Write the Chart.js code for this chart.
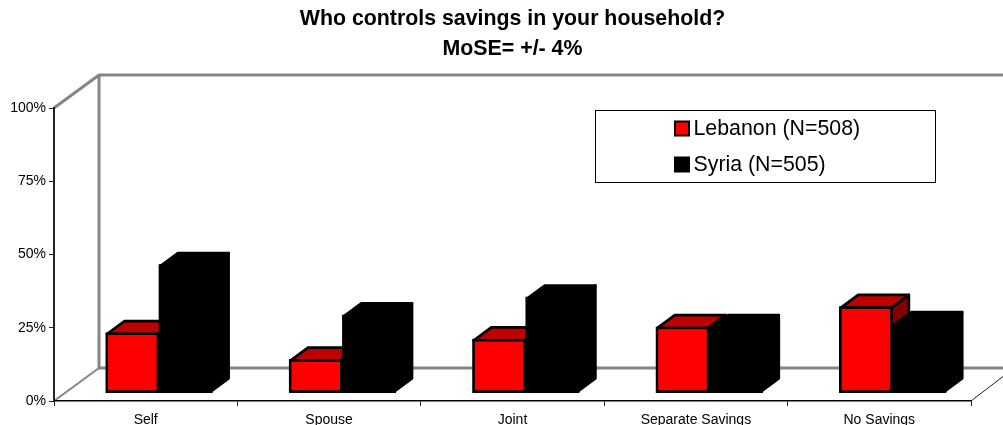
<!DOCTYPE html>
<html><head><meta charset="utf-8">
<style>html,body{margin:0;padding:0;background:#fff;overflow:hidden}#w{position:relative;width:1003px;height:425px}</style>
<script src="https://cdn.jsdelivr.net/npm/chart.js@4"></script>
</head><body><div id="w"><canvas id="c" width="1003" height="425"></canvas></div>
<script>
const categories = ['Self','Spouse','Joint','Separate Savings','No Savings'];
const lebanon = [20.5,11.4,18.3,22.5,29.4];
const syria = [43.7,26.5,32.6,22.5,23.5];
const seriesNames = ['Lebanon (N=508)','Syria (N=505)'];
const yTicks = [0,25,50,75,100];
const titleLines = ['Who controls savings in your household?','MoSE= +/- 4%'];
const slots = categories.map((_,i)=>i);

const FONT='Arial, "Liberation Sans", sans-serif';
const GREY='#858585';
const DX=17.6, DY=13, EDGE=2.75;

function line(ctx,pts,color,w){ctx.save();ctx.strokeStyle=color;ctx.lineWidth=w;ctx.lineJoin='miter';ctx.beginPath();pts.forEach((p,i)=>i?ctx.lineTo(p[0],p[1]):ctx.moveTo(p[0],p[1]));ctx.stroke();ctx.restore();}
function poly(ctx,pts,fill,stroke,w){ctx.save();ctx.fillStyle=fill;ctx.strokeStyle=stroke;ctx.lineWidth=w;ctx.lineJoin='round';ctx.beginPath();pts.forEach((p,i)=>i?ctx.lineTo(p[0],p[1]):ctx.moveTo(p[0],p[1]));ctx.closePath();ctx.fill();ctx.stroke();ctx.restore();}

const scene = {
  id:'scene',
  beforeDraw(chart){
    const ctx=chart.ctx, a=chart.chartArea;
    ctx.save();ctx.fillStyle='#fff';ctx.fillRect(0,0,chart.width,chart.height);ctx.restore();
    const bx=a.left+45, by=a.top-33, fy=a.bottom-33;
    line(ctx,[[a.left,a.top],[bx,by],[chart.width,by]],GREY,3);
    line(ctx,[[bx,by],[bx,fy],[chart.width,fy]],GREY,3);
    line(ctx,[[a.left,a.bottom],[bx,fy]],GREY,2);
    line(ctx,[[a.right,a.bottom],[chart.width,a.bottom-24.5]],'#222',1);
  },
  beforeDatasetsDraw(chart){
    const ctx=chart.ctx, h=EDGE/2;
    [[0,'#bf0000','#800000'],[1,'#000','#000']].forEach(([d,topC,sideC])=>{
      chart.getDatasetMeta(d).data.forEach(b=>{
        const p=b.getProps(['x','y','base','width'],true);
        const l=p.x-p.width/2+h, r=p.x+p.width/2-h, t=p.y+h, bt=p.base-h;
        poly(ctx,[[r,t],[r+DX,t-DY],[r+DX,bt-DY],[r,bt]],sideC,'#000',EDGE);
        poly(ctx,[[l,t],[l+DX,t-DY],[r+DX,t-DY],[r,t]],topC,'#000',EDGE);
      });
    });
  },
  afterDraw(chart){
    const ctx=chart.ctx;
    ctx.save();
    ctx.fillStyle='#fff';ctx.strokeStyle='#000';ctx.lineWidth=1;
    ctx.fillRect(595.5,110.5,340,72);ctx.strokeRect(595.5,110.5,340,72);
    ctx.font='21.33px '+FONT;ctx.textBaseline='middle';ctx.textAlign='left';
    const ys=[128.5,164.5], cols=['#ff0000','#000000'];
    seriesNames.forEach((n,i)=>{
      ctx.fillStyle='#000';ctx.fillRect(674,ys[i]-8,16,16);
      ctx.fillStyle=cols[i];ctx.fillRect(676,ys[i]-6,12,12);
      ctx.fillStyle='#000';ctx.fillText(n,693.5,ys[i]+1);
    });
    ctx.restore();
  }
};

const barOpts = {barThickness:53.35,borderColor:'#000',borderSkipped:false,xAxisID:'xBars',yAxisID:'yBars'};
new Chart(document.getElementById('c'),{
  type:'bar',
  data:{labels:categories,datasets:[
    Object.assign({label:seriesNames[0],data:slots.map(i=>({x:i,y:lebanon[i]})),backgroundColor:'#ff0000',borderWidth:EDGE},barOpts),
    Object.assign({label:seriesNames[1],data:slots.map(i=>({x:i,y:syria[i]})),backgroundColor:'#000000',borderWidth:0},barOpts)
  ]},
  plugins:[scene],
  options:{
    responsive:false,animation:false,
    layout:{padding:{left:0,right:32,top:0,bottom:0}},
    plugins:{
      legend:{display:false},tooltip:{enabled:false},
      title:{display:true,text:titleLines,fullSize:false,color:'#000',font:{family:FONT,size:21.33,weight:'bold',lineHeight:30/21.33},padding:{top:4,bottom:44}}
    },
    scales:{
      x:{type:'category',labels:categories,offset:true,position:'bottom',
        grid:{offset:true,drawOnChartArea:false,tickLength:5,color:'#222',tickWidth:1},
        border:{color:'#000',width:1.5},
        ticks:{color:'#000',font:{family:FONT,size:14},padding:6,autoSkip:false,maxRotation:0},
        afterFit(s){s.height=24;}},
      y:{type:'linear',min:0,max:100,position:'left',
        grid:{drawOnChartArea:false,tickLength:5,color:'#222',tickWidth:1},
        border:{color:'#222',width:2},
        afterBuildTicks(s){s.ticks=yTicks.map(v=>({value:v}));},
        ticks:{color:'#000',font:{family:FONT,size:14},padding:3,callback:v=>v+'%'},
        afterFit(s){s.width=54;}},
      xBars:{type:'linear',display:false,offset:false,min:-0.5725,max:4.4275},
      yBars:{type:'linear',display:false,min:-2.83,max:97.17}
    }
  }
});
</script></body></html>
